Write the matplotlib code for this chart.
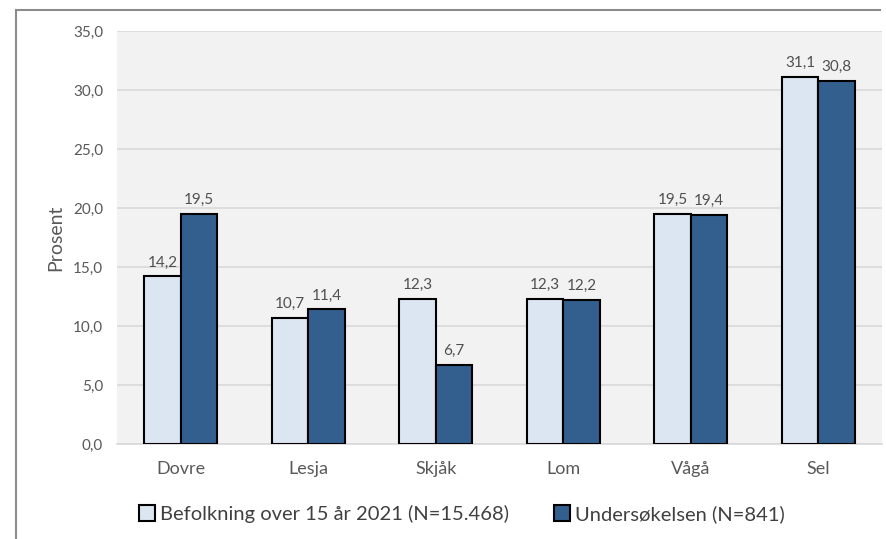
import numpy as np
import matplotlib.pyplot as plt
from matplotlib.lines import Line2D

# Data
kommuner = ['Dovre', 'Lesja', 'Skjåk', 'Lom', 'Vågå', 'Sel']
befolkning = [14.2, 10.7, 12.3, 12.3, 19.5, 31.1]
undersokelsen = [19.5, 11.4, 6.7, 12.2, 19.4, 30.8]
series_names = ['Befolkning over 15 år 2021 (N=15.468)', 'Undersøkelsen (N=841)']
yticks = [0, 5, 10, 15, 20, 25, 30, 35]

plt.rcParams['font.family'] = ['Lato', 'DejaVu Sans']

W, H = 886, 539
fig = plt.figure(figsize=(W / 100, H / 100), dpi=100)
fig.patch.set_facecolor('white')

# plot area in pixel coords
left, right, top, bottom = 117, 882, 31, 444
ax = fig.add_axes([left / W, 1 - bottom / H, (right - left) / W, (bottom - top) / H])
ax.set_facecolor('#f2f2f2')

x = np.arange(len(kommuner))
width = 0.286
light = '#dce6f2'
dark = '#335f8e'

b1 = ax.bar(x - width / 2, befolkning, width, color=light, edgecolor='black', linewidth=1.5, zorder=3)
b2 = ax.bar(x + width / 2, undersokelsen, width, color=dark, edgecolor='black', linewidth=1.5, zorder=3)

for bars, vals in [(b1, befolkning), (b2, undersokelsen)]:
    for rect, v in zip(bars, vals):
        ax.annotate(f'{v:.1f}'.replace('.', ','),
                    (rect.get_x() + rect.get_width() / 2, v),
                    xytext=(0, 5), textcoords='offset points',
                    ha='center', va='bottom', fontsize=11, color='#505050')

ax.set_xlim(-0.5, len(kommuner) - 0.5)
ax.set_ylim(0, 35)
ax.set_yticks(yticks)
ax.set_yticklabels([f'{t:.1f}'.replace('.', ',') for t in yticks])
ax.set_xticks(x)
ax.set_xticklabels(kommuner)
ax.yaxis.grid(True, color='#d9d9d9', linewidth=1.2, zorder=0)
ax.set_axisbelow(True)
for s in ['top', 'right', 'left']:
    ax.spines[s].set_visible(False)
ax.spines['bottom'].set_color('#d9d9d9')
ax.spines['bottom'].set_linewidth(1.2)
ax.tick_params(axis='both', length=0, colors='#595959')
ax.tick_params(axis='y', labelsize=11, pad=10)
ax.tick_params(axis='x', labelsize=13, pad=12)
ax.set_ylabel('Prosent', fontsize=14, color='#595959', labelpad=6)

# legend
handles = [plt.Rectangle((0, 0), 1, 1, facecolor=light, edgecolor='black', linewidth=1.5),
           plt.Rectangle((0, 0), 1, 1, facecolor=dark, edgecolor='black', linewidth=1.5)]
fig.legend(handles, series_names, loc='center', bbox_to_anchor=(462 / W, 1 - 514 / H),
           ncol=2, frameon=False, fontsize=14.5, handlelength=0.8, handleheight=0.8,
           handletextpad=0.25, columnspacing=2.2, labelcolor='#404040')

# outer chart frame (screenshot cropped at right/bottom)
fig.add_artist(Line2D([16 / W, 16 / W], [0, 1 - 10 / H], transform=fig.transFigure,
                      color='#8c8c8c', linewidth=1.5))
fig.add_artist(Line2D([16 / W, 880 / W], [1 - 10 / H, 1 - 10 / H], transform=fig.transFigure,
                      color='#8c8c8c', linewidth=1.5))

fig.savefig('out.png', dpi=100)
